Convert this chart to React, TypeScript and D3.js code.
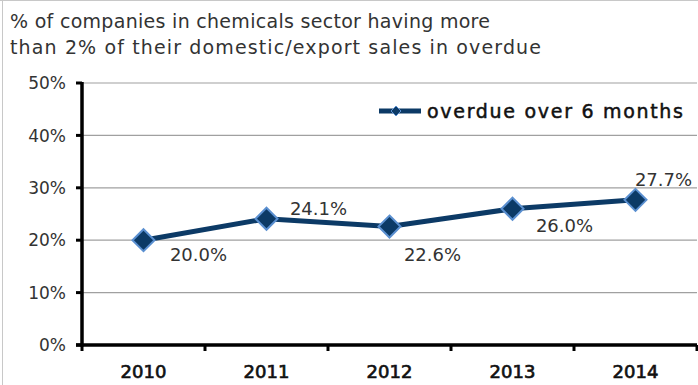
import React from "react";
import * as d3 from "d3";

const titleLines = [
  "% of companies in chemicals sector having more",
  "than 2% of their domestic/export sales in overdue",
];
const categories = ["2010", "2011", "2012", "2013", "2014"];
const values = [20.0, 24.1, 22.6, 26.0, 27.7];
const valueLabels = ["20.0%", "24.1%", "22.6%", "26.0%", "27.7%"];
const yTicks = [0, 10, 20, 30, 40, 50];
const seriesName = "overdue over 6 months";
// label placement relative to point: [dx, dy]
const labelOffsets: [number, number][] = [
  [55, 21],
  [52, -4],
  [43, 34],
  [52, 23],
  [28, -14],
];

const W = 698;
const H = 385;
const FONT = "'DejaVu Sans', 'Open Sans', sans-serif";
const NAVY = "#0c3a66";

export default function App() {
  const left = 82;
  const right = 697;
  const top = 83;
  const bottom = 345;
  const x = d3.scaleBand<string>().domain(categories).range([left, right]);
  const y = d3.scaleLinear().domain([0, 50]).range([bottom, top]);
  const line = d3
    .line<number>()
    .x((_, i) => x(categories[i])! + x.bandwidth() / 2)
    .y((d) => y(d));
  const diamond = (cx: number, cy: number, r: number) =>
    `M${cx},${cy - r}L${cx + r},${cy}L${cx},${cy + r}L${cx - r},${cy}Z`;
  const tickEdges = [...categories.map((c) => x(c)!), right];
  const titleWidths = [480, 531];

  return (
    <svg
      width={W}
      height={H}
      style={{ position: "absolute", left: 0, top: 0, background: "#fff" }}
      fontFamily={FONT}
    >
      <line x1={2.5} y1={0} x2={2.5} y2={H} stroke="#c8c8c8" strokeWidth={1} />
      <line x1={0} y1={0.5} x2={W} y2={0.5} stroke="#c8c8c8" strokeWidth={1} />
      {titleLines.map((t, i) => (
        <text
          key={i}
          x={10}
          y={28 + i * 26}
          fontSize={19}
          fill="#333"
          textLength={titleWidths[i]}
          lengthAdjust="spacing"
        >
          {t}
        </text>
      ))}
      {yTicks.filter((t) => t > 0).map((t) => (
        <line key={t} x1={left} x2={right} y1={y(t)} y2={y(t)} stroke="#a0a0a0" strokeWidth={1.2} />
      ))}
      {yTicks.map((t) => (
        <g key={"yt" + t}>
          <line x1={left - 6} x2={left} y1={y(t)} y2={y(t)} stroke="#000" strokeWidth={3} />
          <text x={66} y={y(t)} dy="0.36em" textAnchor="end" fontSize={17} fill="#333">
            {t}%
          </text>
        </g>
      ))}
      {tickEdges.map((tx, i) => (
        <line key={"xt" + i} x1={tx} x2={tx} y1={bottom} y2={bottom + 6} stroke="#000" strokeWidth={3} />
      ))}
      <line x1={left} x2={left} y1={top - 1} y2={bottom + 1.5} stroke="#000" strokeWidth={3.5} />
      <line x1={left - 6} x2={right} y1={bottom} y2={bottom} stroke="#000" strokeWidth={3.5} />
      {categories.map((c) => (
        <text
          key={c}
          x={x(c)! + x.bandwidth() / 2}
          y={378}
          textAnchor="middle"
          fontSize={18}
          fill="#111"
          stroke="#111"
          strokeWidth={0.7}
        >
          {c}
        </text>
      ))}
      <path d={line(values)!} fill="none" stroke={NAVY} strokeWidth={5} />
      {values.map((v, i) => {
        const cx = x(categories[i])! + x.bandwidth() / 2;
        const cy = y(v);
        return (
          <g key={i}>
            <path d={diamond(cx, cy, 11)} fill={NAVY} stroke="#5a8fd0" strokeWidth={2} />
            <text x={cx + labelOffsets[i][0]} y={cy + labelOffsets[i][1]} textAnchor="middle" fontSize={18} fill="#333">
              {valueLabels[i]}
            </text>
          </g>
        );
      })}
      <g>
        <line x1={379} x2={421} y1={111} y2={111} stroke={NAVY} strokeWidth={5} />
        <path d={diamond(396, 111, 5)} fill={NAVY} stroke="#5a8fd0" strokeWidth={1} />
        <text
          x={427}
          y={111}
          dy="0.36em"
          fontSize={19}
          fill="#111"
          stroke="#111"
          strokeWidth={0.5}
          textLength={256}
          lengthAdjust="spacing"
        >
          {seriesName}
        </text>
      </g>
    </svg>
  );
}
